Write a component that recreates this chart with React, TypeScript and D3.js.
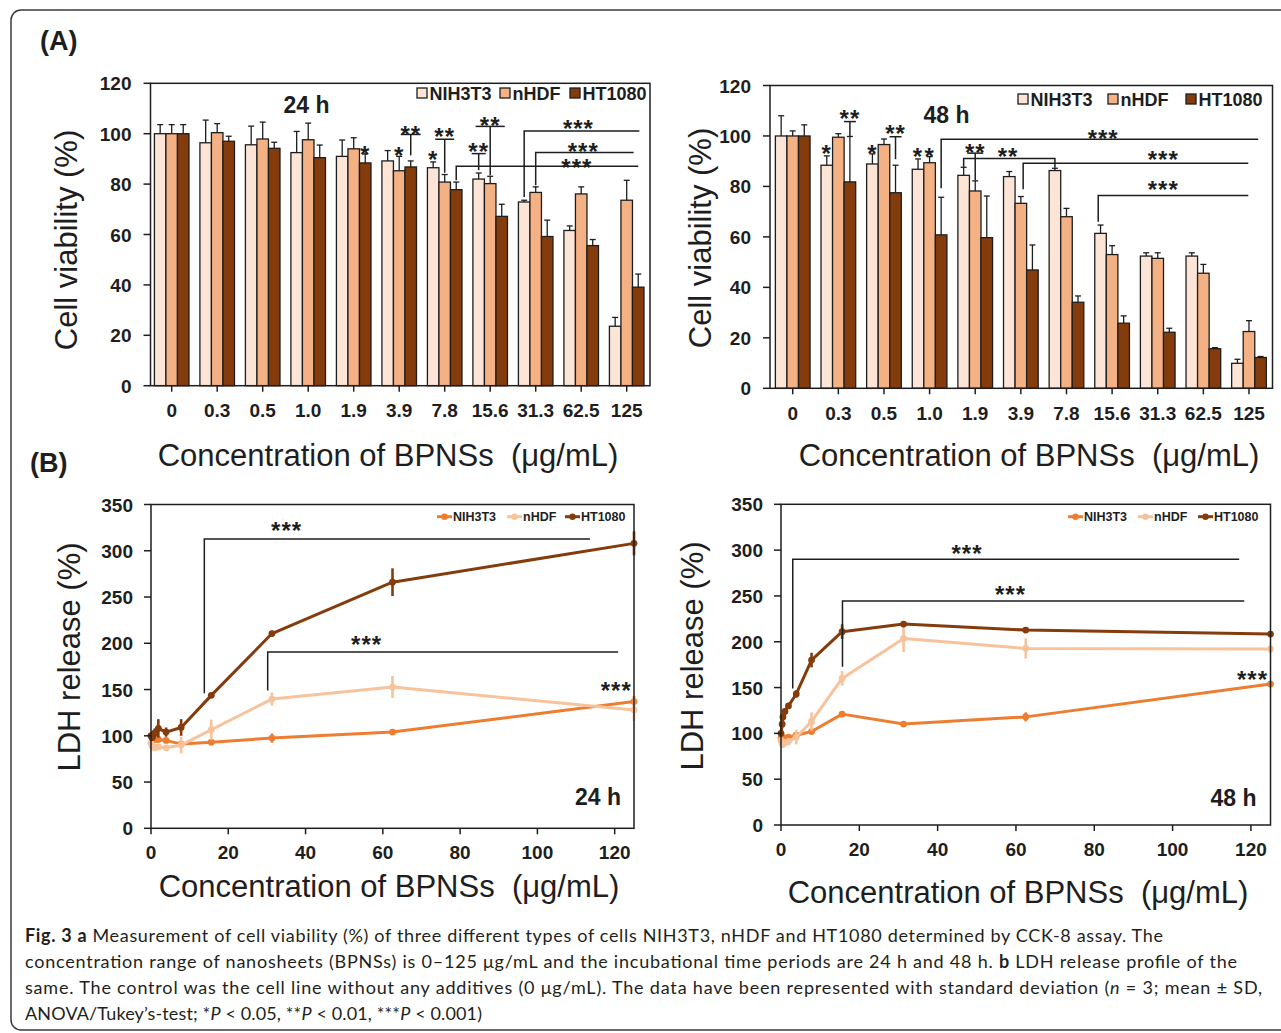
import React, { useEffect } from 'react';
import * as d3 from 'd3';

// ---------- data ----------
const categories = ['0', '0.3', '0.5', '1.0', '1.9', '3.9', '7.8', '15.6', '31.3', '62.5', '125'];
const seriesNames = ['NIH3T3', 'nHDF', 'HT1080'];
const barColors = ['#FCE4D6', '#F4B183', '#843C0C'];
const lineColors = ['#ED7D31', '#F8C29B', '#843C0C'];

const viab24NIH = [100, 96.4, 95.6, 92.5, 91, 89.2, 86.5, 82, 72.9, 61.6, 23.6];
const viab24NIHsd = [3.6, 9, 7.4, 8.4, 6.5, 4.1, 2.3, 2.4, 0.7, 1.8, 3.5];
const viab24nHDF = [100, 100.4, 97.9, 97.6, 94, 85.3, 80.8, 80.2, 76.7, 76.1, 73.6];
const viab24nHDFsd = [3.6, 3.6, 6.7, 6.6, 4.4, 5.7, 3, 2.9, 2.2, 2.8, 7.9];
const viab24HT = [100, 97, 94.2, 90.5, 88.4, 86.8, 77.8, 67.2, 59.2, 55.6, 39.1];
const viab24HTsd = [3.6, 2, 2.4, 5, 3.6, 2.4, 3, 4.8, 6.5, 2.4, 5.2];

const viab48NIH = [100, 88.4, 88.9, 86.8, 84.4, 83.9, 86.3, 61.4, 52.4, 52.4, 9.9];
const viab48NIHsd = [8, 3.7, 4, 4.1, 3.2, 2, 0.9, 3.3, 1.3, 1.3, 1.6];
const viab48nHDF = [100, 99.5, 96.6, 89.4, 78.2, 73.3, 68, 53, 51.5, 45.6, 22.5];
const viab48nHDFsd = [2, 1.4, 2.2, 2.4, 4, 2.7, 3.3, 3.5, 2.2, 3.5, 4.3];
const viab48HT = [100, 81.8, 77.5, 60.8, 59.7, 46.9, 34.1, 25.8, 22.2, 15.7, 12.2];
const viab48HTsd = [4.4, 18, 10.9, 14.9, 16.5, 9.9, 2.5, 2.9, 1.6, 0.4, 0.4];

const viabTicks = [0, 20, 40, 60, 80, 100, 120];

const concentrations = [0, 0.3, 0.5, 1.0, 1.9, 3.9, 7.8, 15.6, 31.3, 62.5, 125];
const ldh24NIH = [100, 97, 96, 96, 96, 95, 91, 93, 97.5, 104, 137];
const ldh24NIHsd = [2, 2, 2, 2, 3, 2, 2, 3, 5, 3, 6];
const ldh24nHDF = [92, 89, 88, 87, 88, 87, 90, 106.5, 139.7, 152.7, 128];
const ldh24nHDFsd = [3, 3, 3, 3, 3, 3, 9, 11, 7, 12, 12];
const ldh24HT = [100, 98, 101, 103, 108, 104, 109, 143.7, 210.5, 266, 308];
const ldh24HTsd = [3, 3, 4, 5, 10, 5, 9, 2, 3, 15, 13];

const ldh48NIH = [95, 93, 94, 95, 96, 98, 102, 121, 110.2, 118, 153.8];
const ldh48NIHsd = [3, 2, 2, 2, 2, 3, 3, 2, 2, 5, 2];
const ldh48nHDF = [92, 89, 88, 90, 91, 96, 113, 160, 203.6, 192.7, 192];
const ldh48nHDFsd = [4, 4, 4, 4, 4, 8, 10, 8, 15, 11, 4];
const ldh48HT = [100, 110, 118, 124, 130, 143, 180, 211, 219.3, 212.7, 208.4];
const ldh48HTsd = [3, 3, 3, 3, 3, 4, 8, 8, 2, 2, 3];

const ldhYTicks = [0, 50, 100, 150, 200, 250, 300, 350];
const ldhXTicks = [0, 20, 40, 60, 80, 100, 120];

// significance annotations (bar charts: category + series index, values in %)
const stars24 = [
  { cat: '1.9', s: 2, v: 94, t: '*' },
  { cat: '3.9', s: 1, v: 93.4, t: '*' },
  { cat: '7.8', s: 0, v: 91.8, t: '*' },
];
const tees24 = [
  { cat: '3.9', s: 2, v0: 91.4, v1: 99.7, hw: 10, t: '**', tv: 101.8 },
  { cat: '7.8', s: 1, v0: 84.5, v1: 97.8, hw: 9.5, t: '**', tv: 100.9 },
  { cat: '15.6', s: 0, v0: 85.5, v1: 92.1, hw: 7, t: '**', tv: 94.9 },
  { cat: '15.6', s: 1, v0: 83.5, v1: 102.9, hw: 14.6, t: '**', tv: 105.5 },
];
const longs24 = [
  { cat: '7.8', s: 2, v0: 81.5, v1: 87.1, endCat: '125', endS: 2.0, t: '***', tCat: '62.5', tS: 0.62, tv: 88.6 },
  { cat: '31.3', s: 0, v0: 74.9, v1: 101.1, endCat: '125', endS: 2.1, t: '***', tCat: '62.5', tS: 0.76, tv: 104.2 },
  { cat: '31.3', s: 1, v0: 79.5, v1: 92.5, endCat: '125', endS: 1.6, t: '***', tCat: '62.5', tS: 1.18, tv: 94.9 },
];
const bridges24: any[] = [];

const stars48 = [
  { cat: '0.3', s: 0, v: 95.1, t: '*' },
  { cat: '0.5', s: 0, v: 95.1, t: '*' },
  { cat: '1.0', s: 0, v: 94.2, t: '*' },
  { cat: '1.0', s: 1, v: 94.2, t: '*' },
];
const tees48 = [
  { cat: '0.3', s: 2, v0: 100, v1: 105.7, hw: 6, t: '**', tv: 109 },
  { cat: '0.5', s: 2, v0: 90.8, v1: 99.7, hw: 6, t: '**', tv: 103 },
  { cat: '1.9', s: 1, v0: 82.5, v1: 93.2, hw: 8, t: '**', tv: 95.6 },
];
const bridges48 = [
  { cat0: '1.9', s0: 0, cat1: '7.8', s1: 0, va: 87.8, vb: 87.4, v1: 91.1, t: '**', tCat: '3.9', tS: -0.1, tv: 94 },
];
const longs48 = [
  { cat: '1.0', s: 2, v0: 79.3, v1: 98.7, endCat: '125', endS: 1.8, t: '***', tCat: '15.6', tS: 0.23, tv: 101 },
  { cat: '3.9', s: 1.2, v0: 78.9, v1: 89.2, endCat: '125', endS: 0.94, t: '***', tCat: '31.3', tS: 1.48, tv: 92.9 },
  { cat: '15.6', s: -0.2, v0: 66, v1: 76.4, endCat: '125', endS: 0.94, t: '***', tCat: '31.3', tS: 1.48, tv: 81 },
];

// line charts: concentration / % coordinates
const ldh24Brackets = [
  { x: 13.8, y0: 146, y1: 312.8, x1: 113.6, t: '***', tx: 35.1, ty: 328 },
  { x: 30.2, y0: 149, y1: 190.5, x1: 120.9, t: '***', tx: 55.8, ty: 204.5 },
];
const ldh24Stars = [{ x: 120.4, y: 155, t: '***' }];
const ldh48Brackets = [
  { x: 3.0, y0: 149, y1: 290, x1: 117, t: '***', tx: 47.5, ty: 302 },
  { x: 15.7, y0: 172.7, y1: 244.4, x1: 118.3, t: '***', tx: 58.6, ty: 258 },
];
const ldh48Stars = [{ x: 120.4, y: 165, t: '***' }];

const INK = '#1e1e1e';
const FONT = '"Liberation Sans", Arial, Helvetica, sans-serif';
const STAR = 24;

function Stars({ x, y, t }: { x: number; y: number; t: string }) {
  return (
    <text x={x} y={y + STAR * 0.58} textAnchor="middle" fontSize={STAR} fontWeight="bold" fill={INK} letterSpacing={1}>
      {t}
    </text>
  );
}

function BarPanel({ c }: { c: any }) {
  const y = d3.scaleLinear().domain([0, 120]).range([c.bottom, c.top]);
  const x = d3
    .scaleBand<string>()
    .domain(categories)
    .range([c.bandStart, c.bandEnd])
    .paddingInner(0.24)
    .paddingOuter(0.12);
  const sub = d3.scaleBand<number>().domain([0, 1, 2]).range([0, x.bandwidth()]);
  const bw = sub.bandwidth();
  const cx = (cat: string, s: number) => (x(cat) as number) + (s + 0.5) * bw;
  const sw = 1.3;
  return (
    <g>
      {c.values.map((vals: number[], si: number) =>
        vals.map((v: number, i: number) => {
          const x0 = (x(categories[i]) as number) + (sub(si) as number);
          return (
            <rect key={`b${si}-${i}`} x={x0} y={y(v)} width={bw} height={y(0) - y(v)} fill={barColors[si]} stroke={INK} strokeWidth={sw} />
          );
        })
      )}
      {c.values.map((vals: number[], si: number) =>
        vals.map((v: number, i: number) => {
          const xm = cx(categories[i], si);
          const top = y(v + c.sds[si][i]);
          return (
            <g key={`e${si}-${i}`} stroke={INK} strokeWidth={sw}>
              <line x1={xm} x2={xm} y1={y(v)} y2={top} />
              <line x1={xm - 3} x2={xm + 3} y1={top} y2={top} />
            </g>
          );
        })
      )}
      <rect x={c.left} y={y(120)} width={c.right - c.left} height={y(0) - y(120)} fill="none" stroke={INK} strokeWidth={1.5} />
      {viabTicks.map((t) => (
        <g key={`yt${t}`}>
          <line x1={c.left - 7} x2={c.left} y1={y(t)} y2={y(t)} stroke={INK} strokeWidth={1.5} />
          <text x={c.left - 19} y={y(t) + 7} textAnchor="end" fontSize={19} fontWeight="bold" fill={INK}>
            {t}
          </text>
        </g>
      ))}
      {categories.map((cat) => {
        const xm = (x(cat) as number) + x.bandwidth() / 2;
        return (
          <g key={`xt${cat}`}>
            <line x1={xm} x2={xm} y1={y(0)} y2={y(0) + 6} stroke={INK} strokeWidth={1.5} />
            <text x={xm} y={c.xLabelY} textAnchor="middle" fontSize={19} fontWeight="bold" fill={INK}>
              {cat}
            </text>
          </g>
        );
      })}
      <g stroke={INK} strokeWidth={1.5} fill="none">
        {c.tees.map((a: any, i: number) => {
          const xm = cx(a.cat, a.s);
          return (
            <g key={`tee${i}`}>
              <line x1={xm} x2={xm} y1={y(a.v0)} y2={y(a.v1)} />
              {a.hw > 0 && <line x1={xm - a.hw} x2={xm + a.hw} y1={y(a.v1)} y2={y(a.v1)} />}
            </g>
          );
        })}
        {c.longs.map((a: any, i: number) => {
          const xm = cx(a.cat, a.s);
          const xe = cx(a.endCat, a.endS);
          return <polyline key={`lg${i}`} points={`${xm},${y(a.v0)} ${xm},${y(a.v1)} ${xe},${y(a.v1)}`} />;
        })}
        {c.bridges.map((a: any, i: number) => {
          const xa = cx(a.cat0, a.s0);
          const xb = cx(a.cat1, a.s1);
          return <polyline key={`br${i}`} points={`${xa},${y(a.va)} ${xa},${y(a.v1)} ${xb},${y(a.v1)} ${xb},${y(a.vb)}`} />;
        })}
      </g>
      {c.stars.map((a: any, i: number) => (
        <Stars key={`st${i}`} x={cx(a.cat, a.s)} y={y(a.v)} t={a.t} />
      ))}
      {c.tees.map((a: any, i: number) => (
        <Stars key={`tt${i}`} x={cx(a.cat, a.s)} y={y(a.tv)} t={a.t} />
      ))}
      {c.longs.map((a: any, i: number) => (
        <Stars key={`lt${i}`} x={cx(a.tCat, a.tS)} y={y(a.tv)} t={a.t} />
      ))}
      {c.bridges.map((a: any, i: number) => (
        <Stars key={`bt${i}`} x={cx(a.tCat, a.tS)} y={y(a.tv)} t={a.t} />
      ))}
      {seriesNames.map((n, i) => (
        <g key={`lg-${n}`}>
          <rect x={c.legendX[i]} y={c.legendY - 5} width={10} height={10} fill={barColors[i]} stroke={INK} strokeWidth={1.3} />
          <text x={c.legendX[i] + 12.5} y={c.legendY + 6.5} fontSize={18} fontWeight="bold" fill={INK}>
            {n}
          </text>
        </g>
      ))}
      <text x={c.timeX} y={c.timeY} textAnchor="middle" fontSize={23} fontWeight="bold" fill={INK}>
        {c.time}
      </text>
      <text transform={`translate(${c.yTitleX},${c.yTitleY}) rotate(-90)`} textAnchor="middle" fontSize={31} fill={INK}>
        Cell viability (%)
      </text>
      <text x={c.xTitleX} y={c.xTitleY} textAnchor="middle" fontSize={31} fill={INK}>
        {'Concentration of BPNSs\u00A0 (μg/mL)'}
      </text>
    </g>
  );
}

function LinePanel({ c }: { c: any }) {
  const x = d3.scaleLinear().domain([0, 125]).range([c.left, c.right]);
  const y = d3.scaleLinear().domain([0, 350]).range([c.bottom, c.top]);
  const line = d3
    .line<number>()
    .x((_, i) => x(concentrations[i]))
    .y((d) => y(d));
  return (
    <g>
      {c.values.map((vals: number[], si: number) => (
        <g key={`s${si}`}>
          <path d={line(vals) as string} fill="none" stroke={lineColors[si]} strokeWidth={3} strokeLinejoin="round" />
          {vals.map((v: number, i: number) => (
            <line
              key={`e${i}`}
              x1={x(concentrations[i])}
              x2={x(concentrations[i])}
              y1={y(v - c.sds[si][i])}
              y2={y(v + c.sds[si][i])}
              stroke={lineColors[si]}
              strokeWidth={2.6}
            />
          ))}
          {vals.map((v: number, i: number) => (
            <circle key={`m${i}`} cx={x(concentrations[i])} cy={y(v)} r={3.4} fill={lineColors[si]} />
          ))}
        </g>
      ))}
      <rect x={x(0)} y={y(350)} width={c.right - c.left} height={y(0) - y(350)} fill="none" stroke={INK} strokeWidth={1.5} />
      {ldhYTicks.map((t) => (
        <g key={`yt${t}`}>
          <line x1={c.left - 7} x2={c.left} y1={y(t)} y2={y(t)} stroke={INK} strokeWidth={1.5} />
          <text x={c.left - 18} y={y(t) + 7} textAnchor="end" fontSize={19} fontWeight="bold" fill={INK}>
            {t}
          </text>
        </g>
      ))}
      {ldhXTicks.map((t) => (
        <g key={`xt${t}`}>
          <line x1={x(t)} x2={x(t)} y1={y(0)} y2={y(0) + 6} stroke={INK} strokeWidth={1.5} />
          <text x={x(t)} y={c.xLabelY} textAnchor="middle" fontSize={19} fontWeight="bold" fill={INK}>
            {t}
          </text>
        </g>
      ))}
      <g stroke={INK} strokeWidth={1.5} fill="none">
        {c.brackets.map((b: any, i: number) => (
          <polyline key={`bk${i}`} points={`${x(b.x)},${y(b.y0)} ${x(b.x)},${y(b.y1)} ${x(b.x1)},${y(b.y1)}`} />
        ))}
      </g>
      {c.brackets.map((b: any, i: number) => (
        <Stars key={`bs${i}`} x={x(b.tx)} y={y(b.ty)} t={b.t} />
      ))}
      {c.stars.map((b: any, i: number) => (
        <Stars key={`ss${i}`} x={x(b.x)} y={y(b.y)} t={b.t} />
      ))}
      {seriesNames.map((n, i) => (
        <g key={`lg-${n}`}>
          <line x1={c.legendX[i]} x2={c.legendX[i] + 15} y1={c.legendY} y2={c.legendY} stroke={lineColors[i]} strokeWidth={3} />
          <circle cx={c.legendX[i] + 7.5} cy={c.legendY} r={3.2} fill={lineColors[i]} />
          <text x={c.legendX[i] + 16} y={c.legendY + 4.5} fontSize={12.5} fontWeight="bold" fill={INK}>
            {n}
          </text>
        </g>
      ))}
      <text x={c.timeX} y={c.timeY} textAnchor="middle" fontSize={23} fontWeight="bold" fill={INK}>
        {c.time}
      </text>
      <text transform={`translate(${c.yTitleX},${c.yTitleY}) rotate(-90)`} textAnchor="middle" fontSize={31} fill={INK}>
        LDH release (%)
      </text>
      <text x={c.xTitleX} y={c.xTitleY} textAnchor="middle" fontSize={31} fill={INK}>
        {'Concentration of BPNSs\u00A0 (μg/mL)'}
      </text>
    </g>
  );
}

const panelA1 = {
  left: 150.5, right: 650, top: 83.3, bottom: 385.7, bandStart: 148.95, bandEnd: 649.45,
  values: [viab24NIH, viab24nHDF, viab24HT], sds: [viab24NIHsd, viab24nHDFsd, viab24HTsd],
  stars: stars24, tees: tees24, longs: longs24, bridges: bridges24,
  legendX: [417, 500, 570], legendY: 93, time: '24 h', timeX: 306.5, timeY: 113,
  yTitleX: 77, yTitleY: 240, xTitleX: 388, xTitleY: 466, xLabelY: 417,
};
const panelA2 = {
  left: 770, right: 1272.5, top: 85.5, bottom: 388.3, bandStart: 769.9, bandEnd: 1271.8,
  values: [viab48NIH, viab48nHDF, viab48HT], sds: [viab48NIHsd, viab48nHDFsd, viab48HTsd],
  stars: stars48, tees: tees48, longs: longs48, bridges: bridges48,
  legendX: [1018, 1108, 1186], legendY: 99, time: '48 h', timeX: 946.5, timeY: 123,
  yTitleX: 711, yTitleY: 238, xTitleX: 1029, xTitleY: 466, xLabelY: 420,
};
const panelB1 = {
  left: 151, right: 634, top: 504.5, bottom: 828.3,
  values: [ldh24NIH, ldh24nHDF, ldh24HT], sds: [ldh24NIHsd, ldh24nHDFsd, ldh24HTsd],
  brackets: ldh24Brackets, stars: ldh24Stars,
  legendX: [437, 507, 565], legendY: 516.7, time: '24 h', timeX: 598, timeY: 805,
  yTitleX: 80, yTitleY: 657, xTitleX: 389, xTitleY: 897, xLabelY: 859,
};
const panelB2 = {
  left: 781, right: 1270.5, top: 504.3, bottom: 825,
  values: [ldh48NIH, ldh48nHDF, ldh48HT], sds: [ldh48NIHsd, ldh48nHDFsd, ldh48HTsd],
  brackets: ldh48Brackets, stars: ldh48Stars,
  legendX: [1068, 1138, 1198], legendY: 516.7, time: '48 h', timeX: 1233.5, timeY: 806,
  yTitleX: 703, yTitleY: 656, xTitleX: 1018, xTitleY: 903, xLabelY: 856,
};

const captionFont = 'Lato, "Open Sans", "Noto Sans", sans-serif';

export default function App() {
  useEffect(() => {
    document.body.style.margin = '0';
  }, []);
  return (
    <svg
      width={1281}
      height={1033}
      style={{ position: 'absolute', left: 0, top: 0, display: 'block', fontFamily: FONT }}
    >
      <rect width={1281} height={1033} fill="#ffffff" />
      <rect x={11} y={10} width={1320} height={1020} rx={10} fill="none" stroke="#3a3a3a" strokeWidth={1.5} />
      <text x={40} y={50} fontSize={27} fontWeight="bold" fill={INK}>(A)</text>
      <text x={30} y={472} fontSize={27} fontWeight="bold" fill={INK}>(B)</text>
      <BarPanel c={panelA1} />
      <BarPanel c={panelA2} />
      <LinePanel c={panelB1} />
      <LinePanel c={panelB2} />
      <g fontFamily={captionFont} fontSize={18} fill="#231F20">
        <text x={25} y={942} textLength={1138} lengthAdjust="spacing">
          <tspan fontWeight="bold">Fig. 3 a</tspan> Measurement of cell viability (%) of three different types of cells NIH3T3, nHDF and HT1080 determined by CCK-8 assay. The
        </text>
        <text x={25} y={968} textLength={1212} lengthAdjust="spacing">
          concentration range of nanosheets (BPNSs) is 0–125 μg/mL and the incubational time periods are 24 h and 48 h. <tspan fontWeight="bold">b</tspan> LDH release profile of the
        </text>
        <text x={25} y={994} textLength={1237} lengthAdjust="spacing">
          same. The control was the cell line without any additives (0 μg/mL). The data have been represented with standard deviation (<tspan fontStyle="italic">n</tspan> = 3; mean ± SD,
        </text>
        <text x={25} y={1020} textLength={457} lengthAdjust="spacing">
          ANOVA/Tukey’s-test; *<tspan fontStyle="italic">P</tspan> &lt; 0.05, **<tspan fontStyle="italic">P</tspan> &lt; 0.01, ***<tspan fontStyle="italic">P</tspan> &lt; 0.001)
        </text>
      </g>
    </svg>
  );
}
